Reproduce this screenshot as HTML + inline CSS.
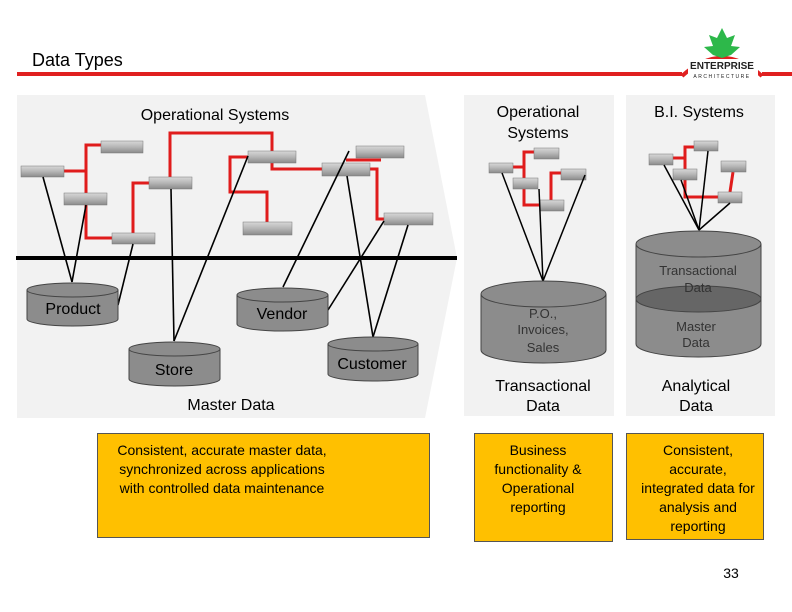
<!DOCTYPE html>
<html><head><meta charset="utf-8"><style>
html,body{margin:0;padding:0;background:#fff}
svg{display:block}
text{font-family:"Liberation Sans","DejaVu Sans",sans-serif}
</style></head><body>
<svg width="792" height="612" viewBox="0 0 792 612" xmlns="http://www.w3.org/2000/svg">
<defs>
<linearGradient id="bx" x1="0" y1="0" x2="0" y2="1">
<stop offset="0" stop-color="#d8d8d8"/><stop offset="0.5" stop-color="#b5b5b5"/><stop offset="1" stop-color="#8a8a8a"/>
</linearGradient>
</defs>
<!-- header -->
<text x="32" y="66" font-size="18" fill="#000">Data Types</text>
<rect x="17" y="72" width="665" height="4" fill="#e02020"/>
<rect x="762" y="72" width="30" height="4" fill="#e02020"/>
<path d="M682 76 Q722 40 762 76" fill="none" stroke="#e02020" stroke-width="4"/>
<polygon points="722,28 727,38 735,35 731,46 740,47 731,55 722,58 713,55 704,47 713,46 709,35 717,38" fill="#2db84a"/>
<rect x="688" y="59" width="70" height="22" fill="#fff"/>
<text x="722" y="69" font-size="10" font-weight="bold" text-anchor="middle" fill="#222">ENTERPRISE</text>
<text x="722" y="78" font-size="5" text-anchor="middle" fill="#222" letter-spacing="1.5">ARCHITECTURE</text>

<!-- left panel -->
<polygon points="17,95 425,95 457,258 425,418 17,418" fill="#f2f2f2"/>
<text x="215" y="120" font-size="16" text-anchor="middle">Operational Systems</text>

<g stroke="#e01c1c" stroke-width="3" fill="none">
<polyline points="64,171 86,171"/>
<polyline points="101,145 86,145 86,238 112,238"/>
<polyline points="133,233 133,183 149,183"/>
<polyline points="170,177 170,133 272,133 272,151"/>
<polyline points="272,163 272,169 322,169"/>
<polyline points="248,157 230,157 230,192 267,192 267,222"/>
<polyline points="346,160 381,160"/>
<polyline points="370,169 377,169 377,219 384,219"/>
</g>
<g fill="url(#bx)" stroke="#777" stroke-width="0.5">
<rect x="21" y="166" width="43" height="11"/>
<rect x="101" y="141" width="42" height="12"/>
<rect x="64" y="193" width="43" height="12"/>
<rect x="112" y="233" width="43" height="11"/>
<rect x="149" y="177" width="43" height="12"/>
<rect x="248" y="151" width="48" height="12"/>
<rect x="243" y="222" width="49" height="13"/>
<rect x="322" y="163" width="48" height="13"/>
<rect x="356" y="146" width="48" height="12"/>
<rect x="384" y="213" width="49" height="12"/>
</g>
<g stroke="#000" stroke-width="1.6">
<line x1="43" y1="177" x2="72" y2="282"/>
<line x1="86" y1="205" x2="72" y2="282"/>
<line x1="133" y1="244" x2="118" y2="305"/>
<line x1="171" y1="189" x2="174" y2="341"/>
<line x1="248" y1="156" x2="174" y2="341"/>
<line x1="349" y1="151" x2="283" y2="287"/>
<line x1="347" y1="176" x2="373" y2="337"/>
<line x1="384" y1="221" x2="328" y2="310"/>
<line x1="408" y1="225" x2="373" y2="337"/>
</g>
<rect x="16" y="256" width="441" height="4" fill="#000"/>

<g fill="#8c8c8c" stroke="#444" stroke-width="1">
<path d="M27,290 v29 a45.5,7 0 0 0 91,0 v-29"/><ellipse cx="72.5" cy="290" rx="45.5" ry="7"/>
<path d="M129,349 v30 a45.5,7 0 0 0 91,0 v-30"/><ellipse cx="174.5" cy="349" rx="45.5" ry="7"/>
<path d="M237,295 v29 a45.5,7 0 0 0 91,0 v-29"/><ellipse cx="282.5" cy="295" rx="45.5" ry="7"/>
<path d="M328,344 v30 a45,7 0 0 0 90,0 v-30"/><ellipse cx="373" cy="344" rx="45" ry="7"/>
</g>
<g font-size="16" text-anchor="middle" fill="#000">
<text x="73" y="314">Product</text>
<text x="282" y="319">Vendor</text>
<text x="174" y="375">Store</text>
<text x="372" y="369">Customer</text>
<text x="231" y="410">Master Data</text>
</g>

<!-- middle panel -->
<rect x="464" y="95" width="150" height="321" fill="#f2f2f2"/>
<g font-size="16" text-anchor="middle">
<text x="538" y="117">Operational</text>
<text x="538" y="138">Systems</text>
</g>
<g stroke="#e01c1c" stroke-width="3" fill="none">
<polyline points="513,167 524,167"/>
<polyline points="534,152 524,152 524,205 540,205"/>
<polyline points="551,200 551,173 561,173"/>
</g>
<g fill="url(#bx)" stroke="#777" stroke-width="0.5">
<rect x="489" y="163" width="24" height="10"/>
<rect x="534" y="148" width="25" height="11"/>
<rect x="513" y="178" width="25" height="11"/>
<rect x="540" y="200" width="24" height="11"/>
<rect x="561" y="169" width="25" height="11"/>
</g>
<g stroke="#000" stroke-width="1.5">
<line x1="502" y1="173" x2="543" y2="281"/>
<line x1="539" y1="189" x2="543" y2="281"/>
<line x1="585" y1="175" x2="543" y2="281"/>
</g>
<g fill="#8c8c8c" stroke="#444" stroke-width="1">
<path d="M481,294 v56 a62.5,13 0 0 0 125,0 v-56"/><ellipse cx="543.5" cy="294" rx="62.5" ry="13"/>
</g>
<g font-size="13" text-anchor="middle" fill="#333">
<text x="543" y="318">P.O.,</text>
<text x="543" y="334">Invoices,</text>
<text x="543" y="352">Sales</text>
</g>
<g font-size="16" text-anchor="middle">
<text x="543" y="391">Transactional</text>
<text x="543" y="411">Data</text>
</g>

<!-- right panel -->
<rect x="626" y="95" width="149" height="321" fill="#f2f2f2"/>
<text x="699" y="117" font-size="16" text-anchor="middle">B.I. Systems</text>
<g stroke="#e01c1c" stroke-width="3" fill="none">
<polyline points="673,158 685,158"/>
<polyline points="694,147 685,147 685,197 718,197"/>
<line x1="733" y1="172" x2="730" y2="192"/>
</g>
<g fill="url(#bx)" stroke="#777" stroke-width="0.5">
<rect x="649" y="154" width="24" height="11"/>
<rect x="694" y="141" width="24" height="10"/>
<rect x="673" y="169" width="24" height="11"/>
<rect x="721" y="161" width="25" height="11"/>
<rect x="718" y="192" width="24" height="11"/>
</g>
<g stroke="#000" stroke-width="1.5">
<line x1="664" y1="165" x2="699" y2="230"/>
<line x1="708" y1="151" x2="699" y2="230"/>
<line x1="681" y1="180" x2="699" y2="230"/>
<line x1="730" y1="203" x2="699" y2="230"/>
</g>
<g stroke="#444" stroke-width="1">
<path d="M636,244 v100 a62.5,13 0 0 0 125,0 v-100" fill="#8c8c8c"/>
<ellipse cx="698.5" cy="244" rx="62.5" ry="13" fill="#8c8c8c"/>
<ellipse cx="698.5" cy="299" rx="62.5" ry="13" fill="#666"/>
</g>
<g font-size="13" text-anchor="middle" fill="#333">
<text x="698" y="275">Transactional</text>
<text x="698" y="292">Data</text>
<text x="696" y="331">Master</text>
<text x="696" y="347">Data</text>
</g>
<g font-size="16" text-anchor="middle">
<text x="696" y="391">Analytical</text>
<text x="696" y="411">Data</text>
</g>

<!-- bottom boxes -->
<g fill="#ffc000" stroke="#555" stroke-width="1">
<rect x="97.5" y="433.5" width="332" height="104"/>
<rect x="474.5" y="433.5" width="138" height="108"/>
<rect x="626.5" y="433.5" width="137" height="106"/>
</g>
<g font-size="14" text-anchor="middle" fill="#000">
<text x="222" y="455">Consistent, accurate master data,</text>
<text x="222" y="474">synchronized across applications</text>
<text x="222" y="493">with controlled data maintenance</text>
<text x="538" y="455">Business</text>
<text x="538" y="474">functionality &amp;</text>
<text x="538" y="493">Operational</text>
<text x="538" y="512">reporting</text>
<text x="698" y="455">Consistent,</text>
<text x="698" y="474">accurate,</text>
<text x="698" y="493">integrated data for</text>
<text x="698" y="512">analysis and</text>
<text x="698" y="531">reporting</text>
</g>
<text x="731" y="578" font-size="14" text-anchor="middle">33</text>
</svg>
</body></html>
